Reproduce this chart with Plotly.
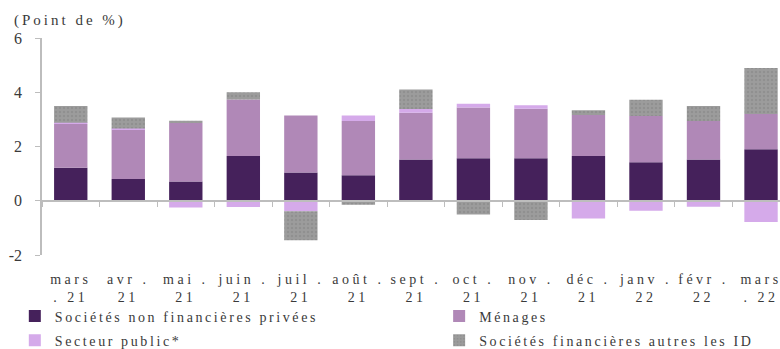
import plotly.graph_objects as go

# Monthly periods (category keys) and their two-line axis labels
months = ["mars 21", "avr 21", "mai 21", "juin 21", "juil 21", "août 21", "sept 21",
          "oct 21", "nov 21", "déc 21", "janv 22", "févr 22", "mars 22"]
month_labels = [("mars", ". 21"), ("avr .", "21"), ("mai .", "21"), ("juin .", "21"),
                ("juil .", "21"), ("août .", "21"), ("sept .", "21"), ("oct .", "21"),
                ("nov .", "21"), ("déc .", "21"), ("janv .", "22"), ("févr .", "22"),
                ("mars", ". 22")]

# Contributions (points de %)
snf_privees = [1.22, 0.80, 0.71, 1.65, 1.04, 0.94, 1.52, 1.57, 1.57, 1.65, 1.42, 1.52, 1.90]
menages = [1.61, 1.83, 2.16, 2.08, 2.10, 2.00, 1.72, 1.87, 1.82, 1.51, 1.70, 1.42, 1.30]
secteur_public = [0.05, 0.03, -0.25, -0.23, -0.39, 0.20, 0.14, 0.14, 0.13, -0.65, -0.37, -0.22, -0.78]
soc_financieres = [0.61, 0.41, 0.08, 0.27, -1.07, -0.15, 0.72, -0.51, -0.71, 0.18, 0.60, 0.55, 1.69]

series_names = ["Sociétés non financières privées", "Ménages", "Secteur public*",
                "Sociétés financières autres les ID"]

y_ticks = [-2, 0, 2, 4, 6]
y_tick_labels = ["-2", "0", "2", "4", "6"]

FONT = "Liberation Serif"
TEXT = "#3a3a3a"
AXIS = "#bdbdbd"


def spaced(s, px=3):
    return f"<span style='letter-spacing:{px}px'>{s}</span>"


tick_text = [spaced(a, 3.5) + "<br>" + spaced(b, 3.5) for a, b in month_labels]

fig = go.Figure()

fig.add_bar(x=months, y=snf_privees, name=spaced(series_names[0], 2.6),
            legend="legend", legendgroup="snf",
            marker=dict(color="#45215b", line=dict(width=0)))
fig.add_bar(x=months, y=menages, name=spaced(series_names[1], 2.6),
            legend="legend2", legendgroup="men",
            marker=dict(color="#b088b7", line=dict(width=0)))
fig.add_bar(x=months, y=secteur_public, name=spaced(series_names[2], 2.6),
            legend="legend", legendgroup="pub",
            marker=dict(color="#d5aaea", line=dict(width=0)))
fig.add_bar(x=months, y=soc_financieres, name=spaced(series_names[3], 2.6),
            legend="legend2", legendgroup="sf",
            marker=dict(color="#9c9c9c", line=dict(width=0),
                        pattern=dict(shape=".", fgcolor="#838383", size=4,
                                     solidity=0.3, fillmode="overlay")))

# Helper trace carrying the categories for the zero-line axis
fig.add_scatter(x=months, y=[0] * len(months), xaxis="x2", yaxis="y",
                mode="markers", marker=dict(opacity=0), showlegend=False,
                hoverinfo="skip")

legend_style = dict(
    orientation="v",
    xref="container", yref="container",
    y=0.139, yanchor="top",
    xanchor="left",
    font=dict(family=FONT, size=14, color=TEXT),
    bgcolor="rgba(0,0,0,0)",
    itemclick=False,
    traceorder="grouped",
    tracegroupgap=3,
)

fig.update_layout(
    width=780, height=349,
    barmode="relative",
    bargap=0.42,
    paper_bgcolor="white",
    plot_bgcolor="white",
    margin=dict(l=42, r=0, t=38, b=94, autoexpand=False),
    font=dict(family=FONT, size=15, color=TEXT),
    showlegend=True,
    legend=dict(x=0.019, **legend_style),
    legend2=dict(x=0.563, **legend_style),
    xaxis=dict(
        type="category",
        categoryorder="array", categoryarray=months,
        range=[-0.5, 12.33],
        tickmode="array", tickvals=months, ticktext=tick_text,
        showline=False, ticks="", showgrid=False, zeroline=False,
        tickfont=dict(family=FONT, size=14, color=TEXT),
        ticklabelstandoff=14,
        automargin=False,
    ),
    xaxis2=dict(
        type="category",
        categoryorder="array", categoryarray=months,
        matches="x",
        overlaying="x",
        anchor="free", position=0.25,
        showline=True, linecolor=AXIS, linewidth=1.5,
        ticks="outside", tickson="boundaries", ticklen=5, tickcolor=AXIS,
        showticklabels=False, showgrid=False, zeroline=False,
        automargin=False,
    ),
    yaxis=dict(
        range=[-2, 6],
        tickmode="array", tickvals=y_ticks, ticktext=y_tick_labels,
        showline=True, linecolor=AXIS, linewidth=1.5,
        ticks="outside", ticklen=5, tickcolor=AXIS,
        showgrid=False, zeroline=False,
        tickfont=dict(family=FONT, size=16, color=TEXT),
        ticklabelstandoff=10,
        automargin=False,
    ),
    annotations=[dict(
        text=spaced("(Point de %)", 3),
        xref="paper", yref="paper",
        x=-0.04, y=1.08, xanchor="left", yanchor="middle",
        showarrow=False,
        font=dict(family=FONT, size=15, color=TEXT),
    )],
)

fig.write_html("out.html")
